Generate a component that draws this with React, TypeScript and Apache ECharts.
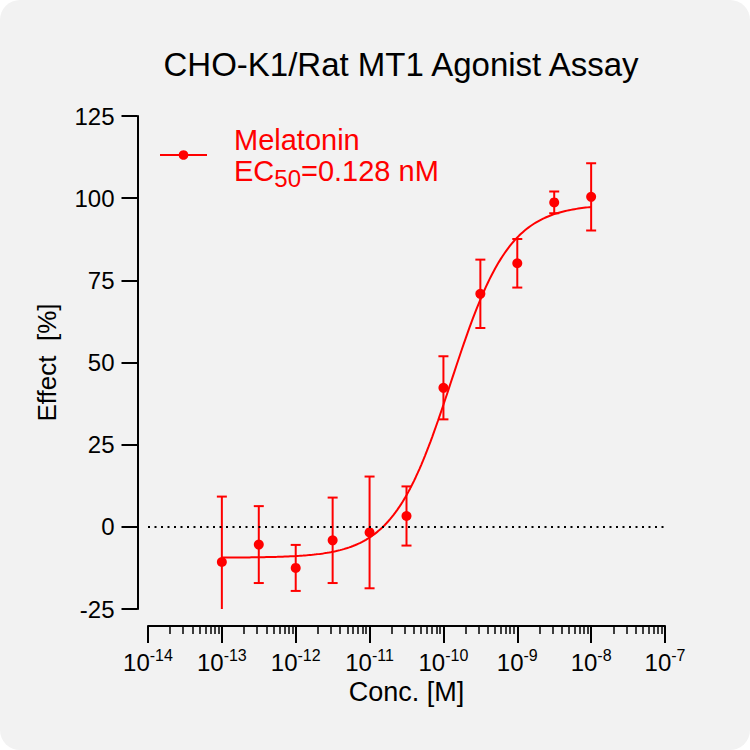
import React, { useEffect, useRef } from 'react';
import * as echarts from 'echarts';

const TITLE = 'CHO-K1/Rat MT1 Agonist Assay';
const SERIES_NAME = 'Melatonin';
const EC50_TEXT = '=0.128 nM';
const X_NAME = 'Conc. [M]';
const Y_NAME = 'Effect  [%]';

// log10 of concentration [M]
const logConc = [-13, -12.5, -12, -11.5, -11, -10.5, -10, -9.5, -9, -8.5, -8];
const effectMean = [-10.7, -5.4, -12.5, -4.1, -1.7, 3.3, 42.3, 70.9, 80.2, 98.7, 100.4];
const effectSD = [19.9, 11.7, 7.0, 13.0, 17.0, 9.0, 9.6, 10.4, 7.4, 3.3, 10.2];

// axis ticks
const xDecades = [-14, -13, -12, -11, -10, -9, -8, -7];
const minorMultipliers = [2, 3, 4, 5, 6, 7, 8, 9];
const yMin = -25;
const yMax = 125;
const yStep = 25;

// fitted 4-parameter logistic curve
const fitBottom = -9.4;
const fitTop = 98.2;
const fitEC50 = 0.128e-9;
const fitHill = 1.1;
const fitFrom = -13;
const fitTo = -8;
const fitSamples = 200;

const RED = '#ff0000';
const FONT = '"Liberation Sans", Arial, Helvetica, sans-serif';

function buildOption() {
  const minorTicks: number[] = [];
  for (let i = 0; i < xDecades.length - 1; i++) {
    for (const m of minorMultipliers) minorTicks.push(xDecades[i] + Math.log10(m));
  }
  const logEC50 = Math.log10(fitEC50);
  const curve: number[][] = [];
  for (let i = 0; i <= fitSamples; i++) {
    const x = fitFrom + ((fitTo - fitFrom) * i) / fitSamples;
    const y = fitBottom + (fitTop - fitBottom) / (1 + Math.pow(10, (logEC50 - x) * fitHill));
    curve.push([x, y]);
  }
  const points = logConc.map((x, i) => [x, effectMean[i]]);
  const bars = logConc.map((x, i) => [x, effectMean[i] - effectSD[i], effectMean[i] + effectSD[i]]);

  return {
    animation: false,
    backgroundColor: 'transparent',
    textStyle: { fontFamily: FONT },
    title: {
      text: TITLE,
      left: 401,
      top: 48,
      textAlign: 'center',
      padding: 0,
      textStyle: { fontSize: 33, fontWeight: 'normal', color: '#000', fontFamily: FONT },
    },
    legend: {
      data: [SERIES_NAME],
      left: 159,
      top: 125,
      padding: 0,
      itemWidth: 47,
      itemHeight: 12,
      selectedMode: false,
      formatter: (name: string) => `{a|${name}}\n{a|EC}{s|50}{a|${EC50_TEXT}}`,
      textStyle: {
        color: RED,
        padding: [0, 0, 0, 22],
        rich: {
          a: { fontSize: 29, lineHeight: 31, color: RED, fontFamily: FONT },
          s: { fontSize: 24, lineHeight: 15, padding: [16, 0, 0, 0], color: RED, fontFamily: FONT },
        },
      },
    },
    grid: { left: 148, right: 85, top: 116, bottom: 141, containLabel: false, outerBoundsMode: 'none' },
    xAxis: [
      {
        type: 'value',
        min: xDecades[0],
        max: xDecades[xDecades.length - 1],
        interval: 1,
        position: 'bottom',
        offset: 17,
        axisLine: { show: true, onZero: false, lineStyle: { color: '#000', width: 2 } },
        axisTick: { show: true, length: 17, lineStyle: { color: '#000', width: 2 } },
        axisLabel: {
          margin: 21,
          color: '#000',
          formatter: (v: number) => `{b|10}{s|${v}}`,
          rich: {
            b: { fontSize: 24, lineHeight: 30, color: '#000', fontFamily: FONT },
            s: { fontSize: 16, lineHeight: 16, verticalAlign: 'top', color: '#000', fontFamily: FONT },
          },
        },
        splitLine: { show: false },
        name: X_NAME,
        nameLocation: 'middle',
        nameGap: 46,
        nameTextStyle: { fontSize: 27, color: '#000', fontFamily: FONT },
      },
      {
        type: 'value',
        min: xDecades[0],
        max: xDecades[xDecades.length - 1],
        position: 'bottom',
        offset: 17,
        axisLine: { show: false, onZero: false },
        axisLabel: { show: false },
        splitLine: { show: false },
        axisTick: { show: true, length: 8, customValues: minorTicks, lineStyle: { color: '#000', width: 1.5 } },
      },
    ],
    yAxis: {
      type: 'value',
      min: yMin,
      max: yMax,
      interval: yStep,
      position: 'left',
      offset: 10.5,
      axisLine: { show: true, onZero: false, lineStyle: { color: '#000', width: 2 } },
      axisTick: { show: true, length: 16, lineStyle: { color: '#000', width: 2 } },
      axisLabel: { margin: 23, fontSize: 24, color: '#000', fontFamily: FONT },
      splitLine: { show: false },
      name: Y_NAME,
      nameLocation: 'middle',
      nameGap: 78,
      nameTextStyle: { fontSize: 26, color: '#000', fontFamily: FONT },
    },
    series: [
      {
        name: SERIES_NAME,
        type: 'line',
        data: curve,
        symbol: 'none',
        showSymbol: false,
        color: RED,
        lineStyle: { color: RED, width: 2 },
        silent: true,
        z: 3,
      },
      {
        name: 'points',
        type: 'scatter',
        data: points,
        symbol: 'circle',
        symbolSize: 10,
        itemStyle: { color: RED, opacity: 1 },
        z: 4,
        markLine: {
          silent: true,
          symbol: 'none',
          label: { show: false },
          lineStyle: { color: '#000', width: 2, type: [2, 4.5] },
          data: [{ yAxis: 0 }],
        },
      },
      {
        name: 'sd',
        type: 'custom',
        data: bars,
        clip: true,
        encode: { x: 0, y: [1, 2] },
        z: 4,
        renderItem: (params: any, api: any) => {
          const x = api.value(0);
          const lo = api.coord([x, api.value(1)]);
          const hi = api.coord([x, api.value(2)]);
          const w = 5;
          const style = { stroke: RED, lineWidth: 2 };
          return {
            type: 'group',
            children: [
              { type: 'line', shape: { x1: lo[0], y1: lo[1], x2: hi[0], y2: hi[1] }, style },
              { type: 'line', shape: { x1: hi[0] - w, y1: hi[1], x2: hi[0] + w, y2: hi[1] }, style },
              { type: 'line', shape: { x1: lo[0] - w, y1: lo[1], x2: lo[0] + w, y2: lo[1] }, style },
            ],
          };
        },
      },
    ],
  };
}

export default function App() {
  const ref = useRef<HTMLDivElement>(null);
  useEffect(() => {
    if (!ref.current) return;
    const chart = echarts.init(ref.current, null, { renderer: 'svg' });
    chart.setOption(buildOption() as any);
    return () => chart.dispose();
  }, []);
  return (
    <div
      style={{
        position: 'fixed',
        left: 0,
        top: 0,
        width: 750,
        height: 750,
        background: '#f2f2f2',
        borderRadius: 20,
        overflow: 'hidden',
      }}
    >
      <div ref={ref} style={{ width: 750, height: 750 }} />
    </div>
  );
}
